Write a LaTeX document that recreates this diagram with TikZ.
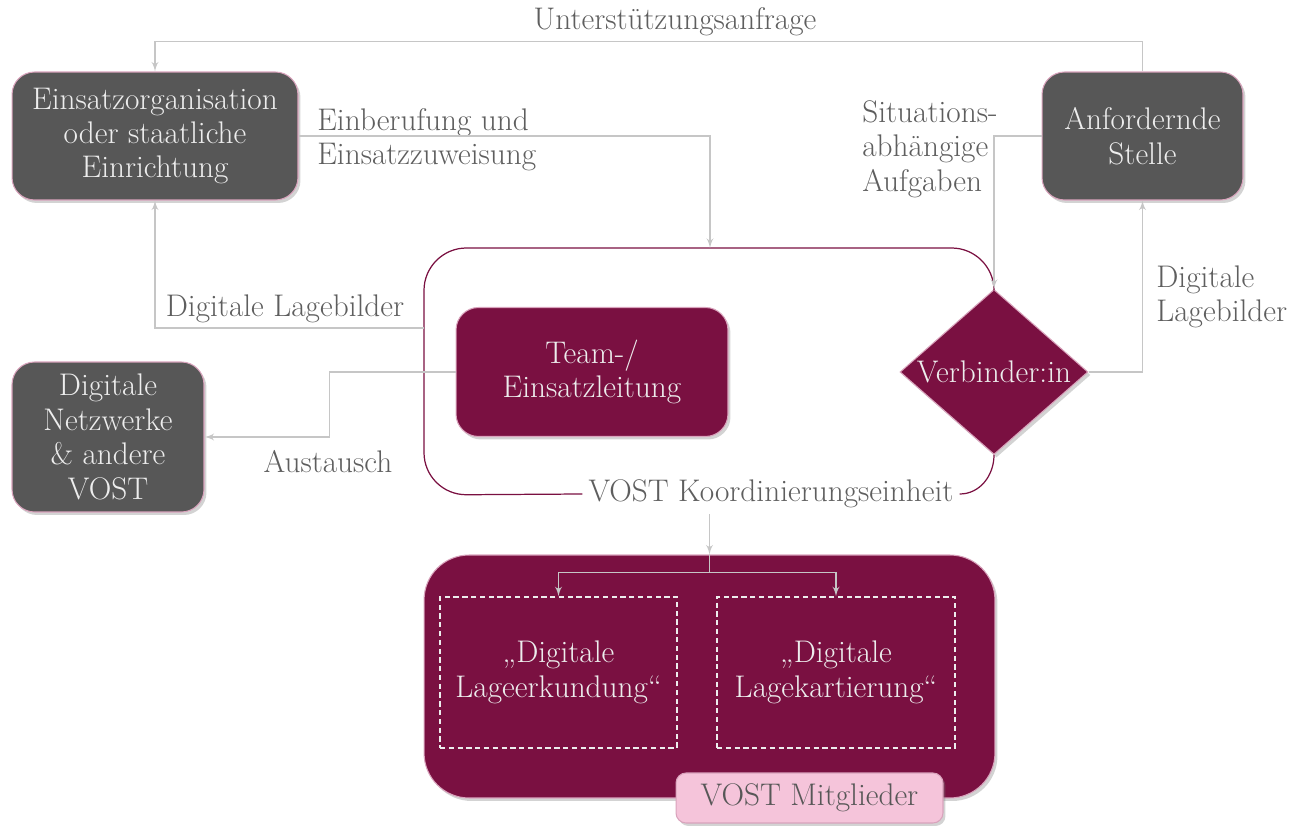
\documentclass[tikz,border=0pt]{standalone}
\usepackage{tikz}
\usetikzlibrary{shapes, arrows, shadows}

\definecolor{dunkelgrau}{HTML}{575757}
\definecolor{weinrot}{HTML}{7A1041}
\definecolor{linie}{HTML}{C6C6C6}
\definecolor{rosa}{HTML}{F5C4DA}
\definecolor{rand}{HTML}{D9A3BC}
\definecolor{schrift}{HTML}{5E5E5E}
\definecolor{hell}{HTML}{EDEDED}

\tikzstyle{pfeil} = [draw=linie, line width=0.9pt, -latex']
\tikzstyle{schatten} = [drop shadow={opacity=0.35, shadow xshift=0.05cm, shadow yshift=-0.06cm}]
\tikzstyle{stelle} = [rectangle, rounded corners=0.45cm, fill=dunkelgrau, draw=rand, line width=0.6pt, text=hell, align=center, schatten]
\tikzstyle{vost} = [rectangle, rounded corners=0.45cm, fill=weinrot, draw=rand, line width=0.6pt, text=hell, align=center, schatten]
\tikzstyle{aufgabe} = [rectangle, draw=hell, dash pattern=on 3pt off 2pt, line width=0.8pt, text=hell, align=center]
\tikzstyle{beschr} = [text=schrift, align=left, inner sep=0pt]
\tikzstyle{rahmen} = [draw=weinrot, line width=0.7pt]

\begin{document}
\begin{tikzpicture}[x=0.02cm, y=-0.02cm, font=\fontsize{17.8}{19.6}\selectfont]
		\useasboundingbox (0,0) rectangle (1299,827);

		\node[stelle, minimum width=5.72cm, minimum height=2.56cm] (eo) at (155,136) {Einsatzorganisation\\oder staatliche\\Einrichtung};
		\node[stelle, minimum width=4.02cm, minimum height=2.56cm] (as) at (1142.5,136) {Anfordernde\\Stelle};
		\node[stelle, minimum width=3.84cm, minimum height=3cm] (dn) at (108,437) {Digitale\\Netzwerke\\\& andere\\VOST};
		\node[vost, minimum width=5.44cm, minimum height=2.58cm] (tl) at (592,372) {Team-/\\Einsatzleitung};
		\node[diamond, fill=weinrot, draw=rand, line width=0.6pt, minimum width=3.76cm, minimum height=3.3cm, inner sep=0pt, schatten] (vb) at (994,372) {};
		\node[text=hell] (vbtext) at (vb) {Verbinder:in};

		\node[vost, rounded corners=0.9cm, minimum width=11.42cm, minimum height=4.86cm] (mg) at (709.5,676.5) {};
		\node[aufgabe, minimum width=4.74cm, minimum height=3.02cm] (le) at (558.5,672.5) {„Digitale\\Lageerkundung“};
		\node[aufgabe, minimum width=4.76cm, minimum height=3.02cm] (lk) at (836,672.5) {„Digitale\\Lagekartierung“};
		\node[rectangle, rounded corners=0.2cm, fill=rosa, draw=rand, line width=0.6pt, text=dunkelgrau, minimum width=5.34cm, minimum height=1cm, schatten] (mgl) at (809.5,798) {VOST Mitglieder};

		\node[beschr] (ua) at (675,22) {Unterstützungsanfrage};
		\node[beschr, anchor=north west] (eb) at (317,108) {Einberufung und\\Einsatzzuweisung};
		\node[beschr, anchor=north west] (sa) at (862,100) {Situations-\\abhängige\\Aufgaben};
		\node[beschr] (dl) at (285,309) {Digitale Lagebilder};
		\node[beschr, anchor=north west] (dr) at (1156,265) {Digitale\\Lagebilder};
		\node[beschr] (au) at (328,462) {Austausch};
		\node[text=schrift] (ko) at (771,494) {VOST Koordinierungseinheit};

		\coordinate (kt) at (710,248);
		\coordinate (kl) at (424,328);

		% Koordinierungseinheit
		\draw[rahmen, rounded corners=0.85cm] (ko.west) -- (424,495) -- (424,248) -- (994,248) -- (vb.north);
		\draw[rahmen] (ko.east) to[out=0, in=-90] (vb.south);

		\path[pfeil] (as.north) -- ++(0,-30) -| (eo.north);
		\path[pfeil] (eo.east) -| (kt);
		\path[pfeil] (as.west) -| (vb.north);
		\path[pfeil] (vb.east) -| (as.south);
		\path[pfeil] (kl) -| (eo.south);
		\path[pfeil] (tl.west) -- ++(-126,0) |- (dn.east);
		\path[pfeil] (mg.north |- ko.south) -- (mg.north);
		\path[pfeil] (mg.north) -- ++(0,18) -| (le.north);
		\path[pfeil] (mg.north) -- ++(0,18) -| (lk.north);
	\end{tikzpicture}
\end{document}
